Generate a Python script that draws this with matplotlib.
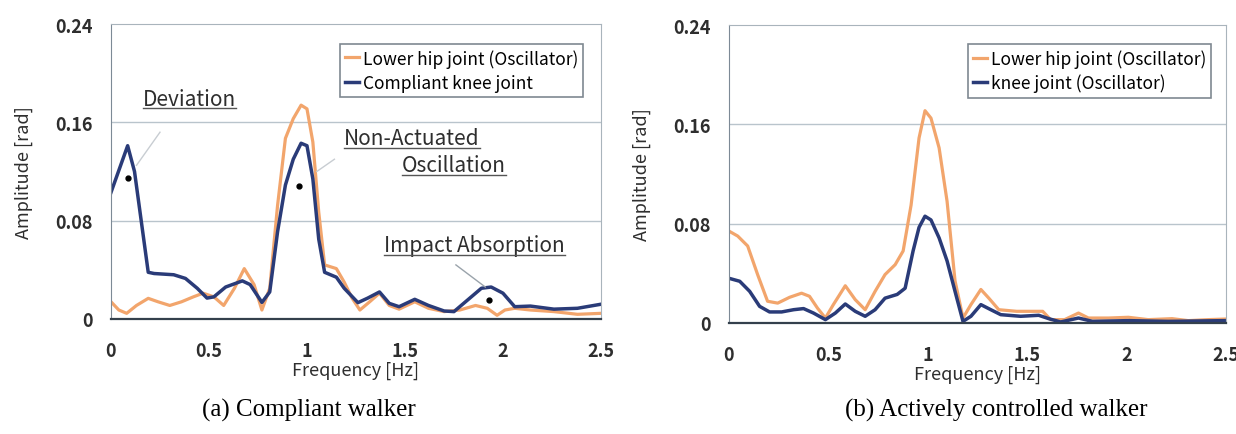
import matplotlib.pyplot as plt
from matplotlib.lines import Line2D

# ---- data ----
# (a) compliant walker
freq_a_knee = [0, 0.085, 0.12, 0.19, 0.22, 0.32, 0.38, 0.44, 0.49, 0.525, 0.585, 0.67, 0.71, 0.77,
               0.81, 0.85, 0.89, 0.93, 0.97, 1.0, 1.03, 1.06, 1.09, 1.15, 1.19, 1.26, 1.31, 1.37,
               1.42, 1.47, 1.55, 1.62, 1.70, 1.75, 1.82, 1.89, 1.94, 2.0, 2.06, 2.14, 2.26, 2.38, 2.5]
amp_a_knee = [0.103, 0.141, 0.12, 0.038, 0.037, 0.036, 0.033, 0.025, 0.017, 0.018, 0.026, 0.031,
              0.028, 0.0135, 0.022, 0.071, 0.109, 0.130, 0.143, 0.141, 0.114, 0.065, 0.038, 0.034,
              0.025, 0.0133, 0.017, 0.022, 0.0127, 0.010, 0.016, 0.011, 0.0065, 0.006, 0.0155,
              0.025, 0.026, 0.021, 0.010, 0.0105, 0.008, 0.0087, 0.012]
freq_a_hip = [0, 0.04, 0.08, 0.13, 0.19, 0.24, 0.30, 0.36, 0.42, 0.47, 0.525, 0.575, 0.63, 0.68,
              0.73, 0.77, 0.81, 0.85, 0.89, 0.93, 0.97, 1.0, 1.03, 1.06, 1.09, 1.15, 1.19, 1.23,
              1.27, 1.32, 1.37, 1.42, 1.47, 1.55, 1.62, 1.70, 1.78, 1.86, 1.92, 1.97, 2.01, 2.06,
              2.14, 2.26, 2.38, 2.5]
amp_a_hip = [0.014, 0.0073, 0.0046, 0.011, 0.0168, 0.014, 0.011, 0.014, 0.018, 0.021, 0.018, 0.011,
             0.025, 0.041, 0.028, 0.0073, 0.025, 0.0925, 0.147, 0.163, 0.174, 0.171, 0.144, 0.087,
             0.044, 0.041, 0.030, 0.017, 0.0073, 0.014, 0.021, 0.011, 0.008, 0.014, 0.0087, 0.006,
             0.0073, 0.011, 0.0087, 0.003, 0.0073, 0.0087, 0.0073, 0.006, 0.0038, 0.0046]

# (b) actively controlled walker
freq_b_hip = [0, 0.044, 0.094, 0.144, 0.194, 0.245, 0.305, 0.365, 0.405, 0.445, 0.485, 0.525, 0.585,
              0.635, 0.685, 0.735, 0.785, 0.836, 0.876, 0.916, 0.956, 0.986, 1.016, 1.057, 1.097,
              1.137, 1.177, 1.217, 1.267, 1.307, 1.357, 1.447, 1.528, 1.578, 1.618, 1.688, 1.758,
              1.808, 1.909, 2.009, 2.109, 2.229, 2.31, 2.41, 2.5]
amp_b_hip = [0.074, 0.070, 0.062, 0.039, 0.0175, 0.016, 0.0207, 0.024, 0.0215, 0.012, 0.004, 0.0148,
             0.030, 0.0188, 0.0107, 0.0255, 0.039, 0.047, 0.058, 0.095, 0.149, 0.171, 0.165, 0.141,
             0.098, 0.034, 0.004, 0.0148, 0.027, 0.020, 0.0107, 0.0094, 0.0094, 0.0094, 0.0027,
             0.0027, 0.008, 0.004, 0.004, 0.0046, 0.0027, 0.0035, 0.0019, 0.0027, 0.0032]
freq_b_knee = [0, 0.054, 0.104, 0.154, 0.204, 0.265, 0.325, 0.375, 0.425, 0.485, 0.535, 0.585, 0.635,
               0.685, 0.735, 0.785, 0.846, 0.886, 0.926, 0.956, 0.986, 1.016, 1.057, 1.097, 1.137,
               1.177, 1.217, 1.267, 1.317, 1.367, 1.467, 1.558, 1.608, 1.668, 1.758, 1.828, 2.009,
               2.209, 2.5]
amp_b_knee = [0.036, 0.0336, 0.0255, 0.0134, 0.0089, 0.0089, 0.0107, 0.0116, 0.008, 0.0027, 0.008,
              0.0153, 0.0094, 0.0054, 0.0107, 0.020, 0.023, 0.028, 0.058, 0.077, 0.086, 0.083,
              0.0685, 0.050, 0.0255, 0.0013, 0.0054, 0.0148, 0.0107, 0.0067, 0.0054, 0.0062,
              0.0035, 0.0008, 0.004, 0.0013, 0.0019, 0.0013, 0.0019]

# marked points and labels in panel (a)
dot_f = [0.085, 0.96, 1.93]
dot_a = [0.115, 0.108, 0.0154]

xticks = [0, 0.5, 1, 1.5, 2, 2.5]
xticklabels = ["0", "0.5", "1", "1.5", "2", "2.5"]
yticks = [0, 0.08, 0.16, 0.24]
yticklabels = ["0", "0.08", "0.16", "0.24"]

ORANGE = "#f2a56c"
BLUE = "#2a3b78"
TXT = "#2e2e2e"
SANS = ["Noto Sans CJK JP", "DejaVu Sans"]

fig = plt.figure(figsize=(12.36, 4.35), dpi=100)
ax1 = fig.add_axes([0.0898, 0.2644, 0.3964, 0.678])
ax2 = fig.add_axes([0.5898, 0.2552, 0.4021, 0.685])


def style_axes(ax):
    ax.set_xlim(0, 2.5)
    ax.set_ylim(0, 0.24)
    ax.set_xticks(xticks)
    ax.set_xticklabels(xticklabels)
    ax.set_yticks(yticks)
    ax.set_yticklabels(yticklabels)
    ax.tick_params(axis="x", length=0, pad=16, labelsize=13, labelcolor=TXT)
    ax.tick_params(axis="y", length=0, pad=13, labelsize=13, labelcolor=TXT)
    for lab in ax.get_xticklabels() + ax.get_yticklabels():
        lab.set_family(SANS)
        lab.set_weight("bold")
    for g in [0.08, 0.16]:
        ax.axhline(g, color="#b9c4cc", lw=1.0, zorder=0)
    ax.spines["left"].set_color("#7d8a96")
    ax.spines["top"].set_color("#a9b4bc")
    ax.spines["right"].set_color("#a9b4bc")
    ax.spines["bottom"].set_color("#34404c")
    ax.spines["bottom"].set_linewidth(1.6)
    ax.set_xlabel("Frequency [Hz]", fontsize=13, family=SANS, color=TXT, labelpad=0.5)
    ax.set_ylabel("Amplitude [rad]", fontsize=13, family=SANS, color=TXT, labelpad=16)


# panel (a)
ax1.plot(freq_a_hip, amp_a_hip, color=ORANGE, lw=2.3, label="Lower hip joint (Oscillator)")
ax1.plot(freq_a_knee, amp_a_knee, color=BLUE, lw=2.5, label="Compliant knee joint")
ax1.plot(dot_f, dot_a, "o", color="black", ms=3.5, zorder=5)
style_axes(ax1)
leg1 = ax1.legend(loc="upper right", bbox_to_anchor=(0.982, 0.963),
                  handlelength=0.8, handletextpad=0.2, borderpad=0.3, labelspacing=0.35,
                  fancybox=False, edgecolor="#5f6b76", prop={"family": SANS, "size": 12.5})
leg1.get_frame().set_linewidth(1.2)

# faint leader lines from labels to peaks
ax1.plot([0.25, 0.13], [0.152, 0.125], color="#c8cdd2", lw=1.0)
ax1.plot([1.14, 1.05], [0.130, 0.12], color="#c8cdd2", lw=1.0)
ax1.plot([1.76, 1.91], [0.044, 0.026], color="#9aa3ab", lw=1.0)

notes = [("Deviation", 0.40, 0.179), ("Non-Actuated", 1.535, 0.147),
         ("Oscillation", 1.75, 0.125), ("Impact Absorption", 1.855, 0.060)]
note_texts = []
for s, xf, ya in notes:
    t = ax1.text(xf, ya, s, ha="center", va="center", fontsize=15, family=SANS, color=TXT)
    note_texts.append(t)

# panel (b)
ax2.plot(freq_b_hip, amp_b_hip, color=ORANGE, lw=2.3, label="Lower hip joint (Oscillator)")
ax2.plot(freq_b_knee, amp_b_knee, color=BLUE, lw=2.5, label="knee joint (Oscillator)")
style_axes(ax2)
leg2 = ax2.legend(loc="upper right", bbox_to_anchor=(0.988, 0.966),
                  handlelength=0.8, handletextpad=0.2, borderpad=0.3, labelspacing=0.35,
                  fancybox=False, edgecolor="#5f6b76", prop={"family": SANS, "size": 12.5})
leg2.get_frame().set_linewidth(1.2)

# captions
fig.text(0.2497, 0.057, "(a) Compliant walker", ha="center", va="center",
         fontsize=18, family="Liberation Serif", color="black")
fig.text(0.806, 0.057, "(b) Actively controlled walker", ha="center", va="center",
         fontsize=18, family="Liberation Serif", color="black")

# underline the annotation labels
fig.canvas.draw()
inv = fig.transFigure.inverted()
for t in note_texts:
    bb = t.get_window_extent()
    (x0, y0), (x1, _) = inv.transform([[bb.x0, bb.y0], [bb.x1, bb.y0]])
    fig.add_artist(Line2D([x0, x1], [y0 + 0.004, y0 + 0.004], color="#555555", lw=1.0,
                          transform=fig.transFigure))

fig.savefig("out.png", dpi=100, facecolor="white")
